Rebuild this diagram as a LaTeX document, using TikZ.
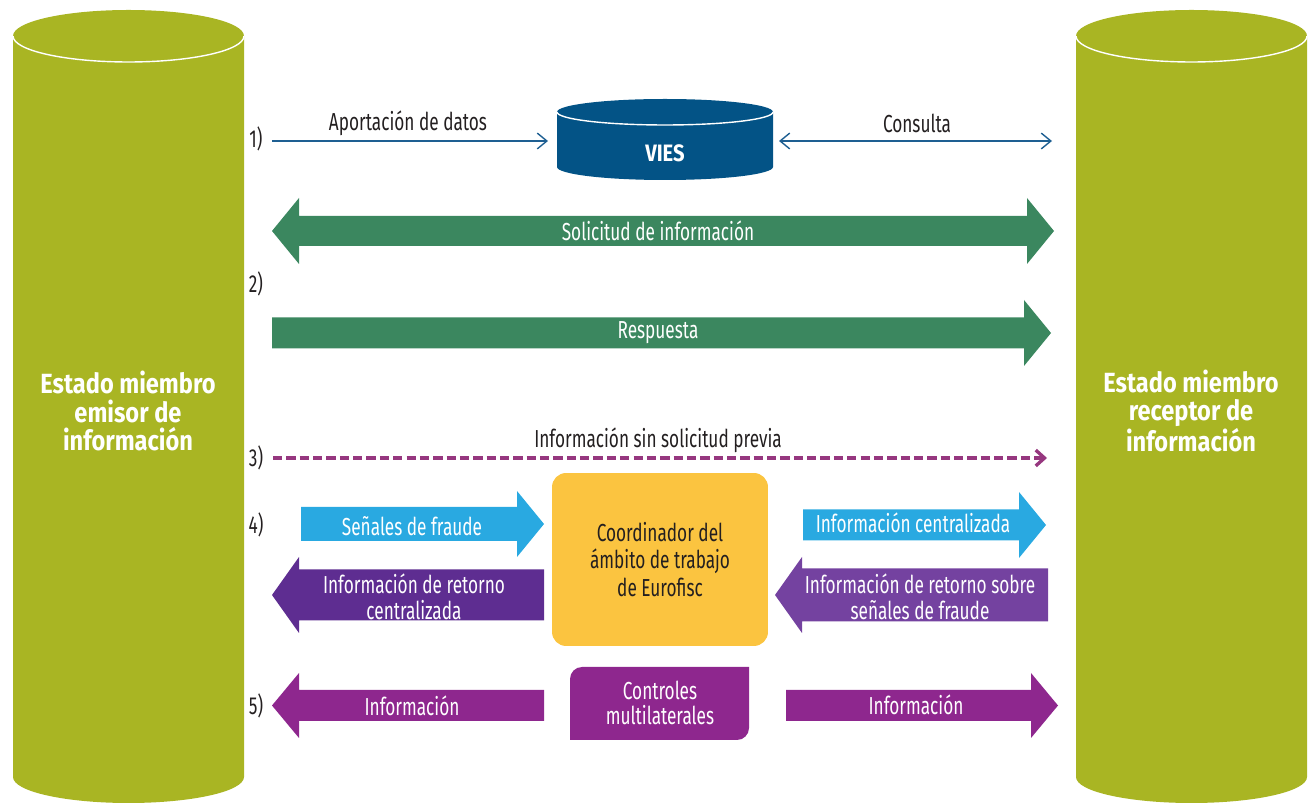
\documentclass[tikz,border=0pt]{standalone}
\usepackage{fontspec}
\setmainfont{Fira Sans}[FakeStretch=0.70]
\newfontfamily\cylfont{Fira Sans}[FakeStretch=0.85]
\usepackage{tikz}
\usetikzlibrary{arrows.meta}
\definecolor{oliva}{RGB}{169,181,35}
\definecolor{viesazul}{RGB}{3,83,134}
\definecolor{lineazul}{RGB}{30,95,146}
\definecolor{verde}{RGB}{59,135,95}
\definecolor{magdash}{RGB}{150,55,127}
\definecolor{cian}{RGB}{41,169,225}
\definecolor{amarillo}{RGB}{251,196,64}
\definecolor{moradoA}{RGB}{94,45,145}
\definecolor{moradoB}{RGB}{116,66,160}
\definecolor{magenta5}{RGB}{142,39,142}
\definecolor{textoosc}{RGB}{35,31,32}
\tikzset{>={Straight Barb[length=5.5pt,width=9pt]}}
% block arrows: colour, x tail, x tip, y centre, half shaft, half head
\newcommand{\flechaD}[6]{%
  \fill[#1] (#2,{#4+#5}) -- ({#3-27},{#4+#5}) -- ({#3-27},{#4+#6}) -- (#3,#4)
    -- ({#3-27},{#4-#6}) -- ({#3-27},{#4-#5}) -- (#2,{#4-#5}) -- cycle;}
\newcommand{\flechaI}[6]{%
  \fill[#1] (#2,{#4+#5}) -- ({#3+27},{#4+#5}) -- ({#3+27},{#4+#6}) -- (#3,#4)
    -- ({#3+27},{#4-#6}) -- ({#3+27},{#4-#5}) -- (#2,{#4-#5}) -- cycle;}

\begin{document}
\begin{tikzpicture}[x=0.02cm,y=0.02cm,font=\fontsize{14}{15.5}\selectfont,
	txt/.style={text=textoosc,inner sep=0pt},
	wtxt/.style={text=white,inner sep=0pt,align=center,font=\fontsize{14}{14.5}\selectfont},
	cyltxt/.style={text=white,align=center,font=\cylfont\bfseries\fontsize{15.8}{16.4}\selectfont},
	thinarr/.style={draw=lineazul,line width=0.8pt},
	dasharr/.style={draw=magdash,line width=1.9pt,dash pattern=on 5.3pt off 2.3pt}]
	\useasboundingbox (0,0) rectangle (1316,-803);

	% emitting and receiving states
	\fill[oliva] (13,-36) -- (13,-777) arc[start angle=180,end angle=360,x radius=115.5,y radius=26]
		-- (244,-36) arc[start angle=0,end angle=180,x radius=115.5,y radius=26] -- cycle;
	\draw[white,line width=0.8pt] (13,-36) arc[start angle=180,end angle=360,x radius=115.5,y radius=26];
	\fill[oliva] (1076,-36) -- (1076,-777) arc[start angle=180,end angle=360,x radius=115.5,y radius=26]
		-- (1307,-36) arc[start angle=0,end angle=180,x radius=115.5,y radius=26] -- cycle;
	\draw[white,line width=0.8pt] (1076,-36) arc[start angle=180,end angle=360,x radius=115.5,y radius=26];
	\node[cyltxt] (emisor) at (128,-411) {Estado miembro\\emisor de\\información};
	\node[cyltxt] (receptor) at (1191,-411) {Estado miembro\\receptor de\\información};

	% VIES
	\fill[viesazul] (557,-112) -- (557,-167) arc[start angle=180,end angle=360,x radius=108,y radius=13]
		-- (773,-112) arc[start angle=0,end angle=180,x radius=108,y radius=13] -- cycle;
	\draw[white,line width=0.8pt] (557,-112) arc[start angle=180,end angle=360,x radius=108,y radius=13];
	\node[text=white,font=\cylfont\bfseries\fontsize{13.5}{15}\selectfont] (vies) at (665,-153) {VIES};

	% step labels
	\node[txt] (p1) at (256,-139) {1)};
	\node[txt] (p2) at (256,-284) {2)};
	\node[txt] (p3) at (256,-458) {3)};
	\node[txt] (p4) at (256,-525) {4)};
	\node[txt] (p5) at (256,-706) {5)};

	% 1)
	\coordinate (a1) at (272,-141);
	\coordinate (a2) at (548,-141);
	\draw[thinarr,->] (a1) -- (a2);
	\node[txt] (aport) at (408,-123) {Aportación de datos};
	\coordinate (c1) at (779,-141);
	\coordinate (c2) at (1052,-141);
	\draw[thinarr,<->] (c1) -- (c2);
	\node[txt] (consulta) at (917,-123) {Consulta};

	% 2)
	\flechaD{verde}{663}{1054}{-231}{15}{33}
	\flechaI{verde}{663}{272}{-231}{15}{33}
	\node[wtxt] (solicitud) at (658,-231) {Solicitud de información};
	\flechaD{verde}{272}{1051}{-333}{15.5}{33}
	\node[wtxt] (respuesta) at (658,-333) {Respuesta};

	% 3)
	\coordinate (d1) at (273,-458);
	\coordinate (d2) at (1047,-458);
	\draw[dasharr,-{Straight Barb[length=5pt,width=9pt]}] (d1) -- (d2);
	\node[txt] (sinsol) at (658,-440) {Información sin solicitud previa};

	% 4)
	\node[fill=amarillo,rounded corners=8pt,minimum width=4.32cm,minimum height=3.46cm,
		align=center,text=textoosc,font=\fontsize{14}{15.6}\selectfont] (coordinador) at (660,-559.5)
		{Coordinador del\\ámbito de trabajo\\de Eurofisc};
	\flechaD{cian}{301}{544}{-524}{17}{33}
	\node[wtxt] (senales) at (412,-526) {Señales de fraude};
	\flechaD{cian}{803}{1046}{-525}{15.5}{33}
	\node[wtxt] (centralizada) at (913,-523) {Información centralizada};
	\flechaI{moradoA}{544}{272}{-595}{25.5}{38}
	\node[wtxt] (retornoc) at (414,-597) {Información de retorno\\centralizada};
	\flechaI{moradoB}{1048}{775}{-595}{26.5}{38}
	\node[wtxt] (retornos) at (920,-597) {Información de retorno sobre\\señales de fraude};

	% 5)
	\fill[magenta5] (570,-740) -- (570,-679) arc[start angle=180,end angle=90,radius=12]
		-- (749,-667) -- (749,-728) arc[start angle=0,end angle=-90,radius=12] -- cycle;
	\node[wtxt] (controles) at (660,-703) {Controles\\multilaterales};
	\flechaI{magenta5}{544}{272}{-705.5}{15.5}{32.5}
	\node[wtxt] (info1) at (412,-706) {Información};
	\flechaD{magenta5}{786}{1058}{-705.5}{15.5}{32.5}
	\node[wtxt] (info2) at (916,-705) {Información};
\end{tikzpicture}
\end{document}
